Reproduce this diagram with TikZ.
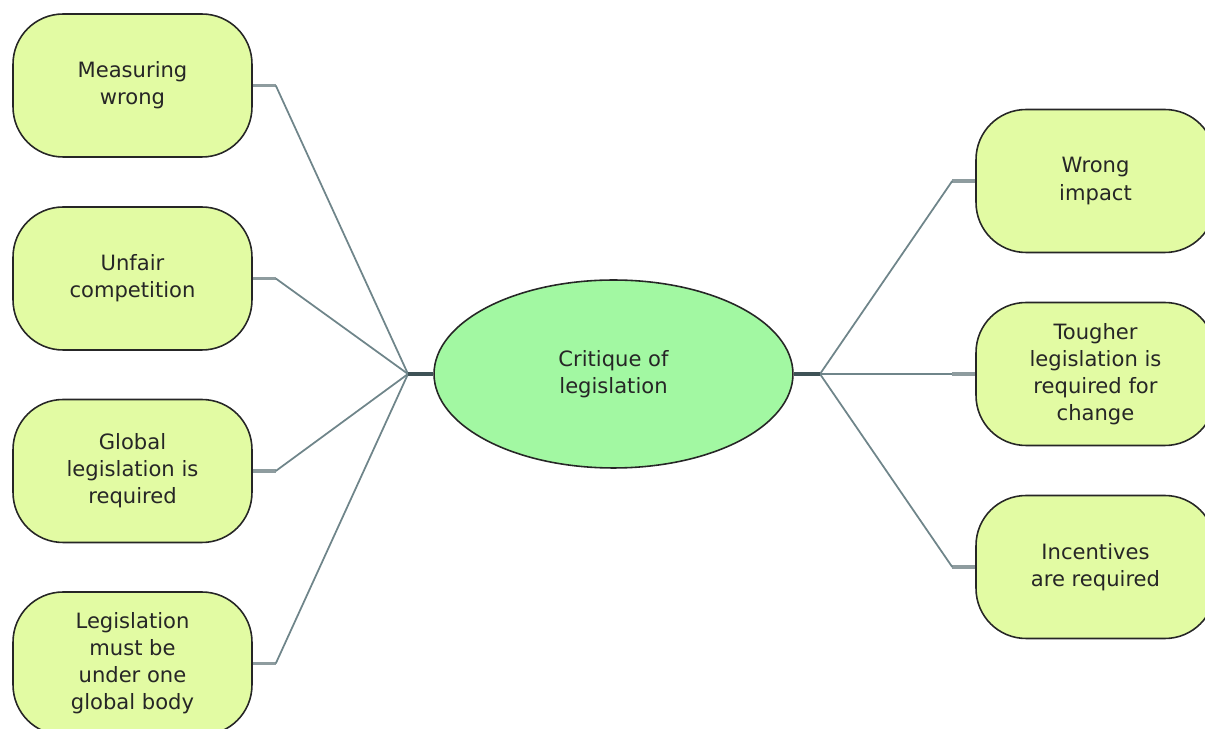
\documentclass[tikz,border=0pt]{standalone}
\usepackage{fontspec}
\setmainfont{DejaVu Sans}
\usepackage{tikz}
\usetikzlibrary{shapes.geometric,calc}
\definecolor{MapLime}{HTML}{E2FBA3}
\definecolor{MapGreen}{HTML}{A2F8A2}
\definecolor{MapLine}{HTML}{6F858A}
\definecolor{MapHub}{HTML}{3E5256}
\definecolor{MapStub}{HTML}{8E9C9F}

\tikzset{
  leaf/.style={draw=black!85, line width=0.9pt, fill=MapLime, rounded corners=1cm,
    minimum width=4.78cm, minimum height=2.86cm, align=center,
    font=\fontsize{12}{15.4}\selectfont, text=black!85},
  hubnode/.style={ellipse, draw=black!85, line width=0.9pt, fill=MapGreen,
    minimum width=7.18cm, minimum height=3.76cm, align=center,
    font=\fontsize{12}{15.4}\selectfont, text=black!85},
  spoke/.style={draw=MapLine, line width=1pt},
  stub/.style={draw=MapStub, line width=1.8pt},
  trunk/.style={draw=MapHub, line width=1.8pt}
}

\begin{document}
\begin{tikzpicture}[x=0.02cm, y=-0.02cm]
   \clip (0,0) rectangle (1205,729);
   \useasboundingbox (0,0) rectangle (1205,729);

   \node[hubnode] (crit) at (613.5,374) {Critique of\\legislation};
   \coordinate (hubL) at (408,374);
   \coordinate (hubR) at (820,374);

   \foreach \y/\name/\txt in {85.5/L1/{Measuring\\wrong},
                             278.5/L2/{Unfair\\competition},
                             471/L3/{Global\\legislation is\\required},
                             663.5/L4/{Legislation\\must be\\under one\\global body}} {
    \node[leaf] (\name) at (132.5,\y) {\txt};
    \draw[stub] (\name.east) -- ++(23,0) coordinate (\name s);
    \draw[spoke] (\name s) -- (hubL);
   }

   \foreach \y/\name/\txt in {181/R1/{Wrong\\impact},
                             374/R2/{Tougher\\legislation is\\required for\\change},
                             567/R3/{Incentives\\are required}} {
    \node[leaf] (\name) at (1095.5,\y) {\txt};
    \draw[stub] (\name.west) -- ++(-23,0) coordinate (\name s);
    \draw[spoke] (\name s) -- (hubR);
   }

   \draw[trunk] (hubL) -- (crit.west);
   \draw[trunk] (crit.east) -- (hubR);
\end{tikzpicture}
\end{document}
